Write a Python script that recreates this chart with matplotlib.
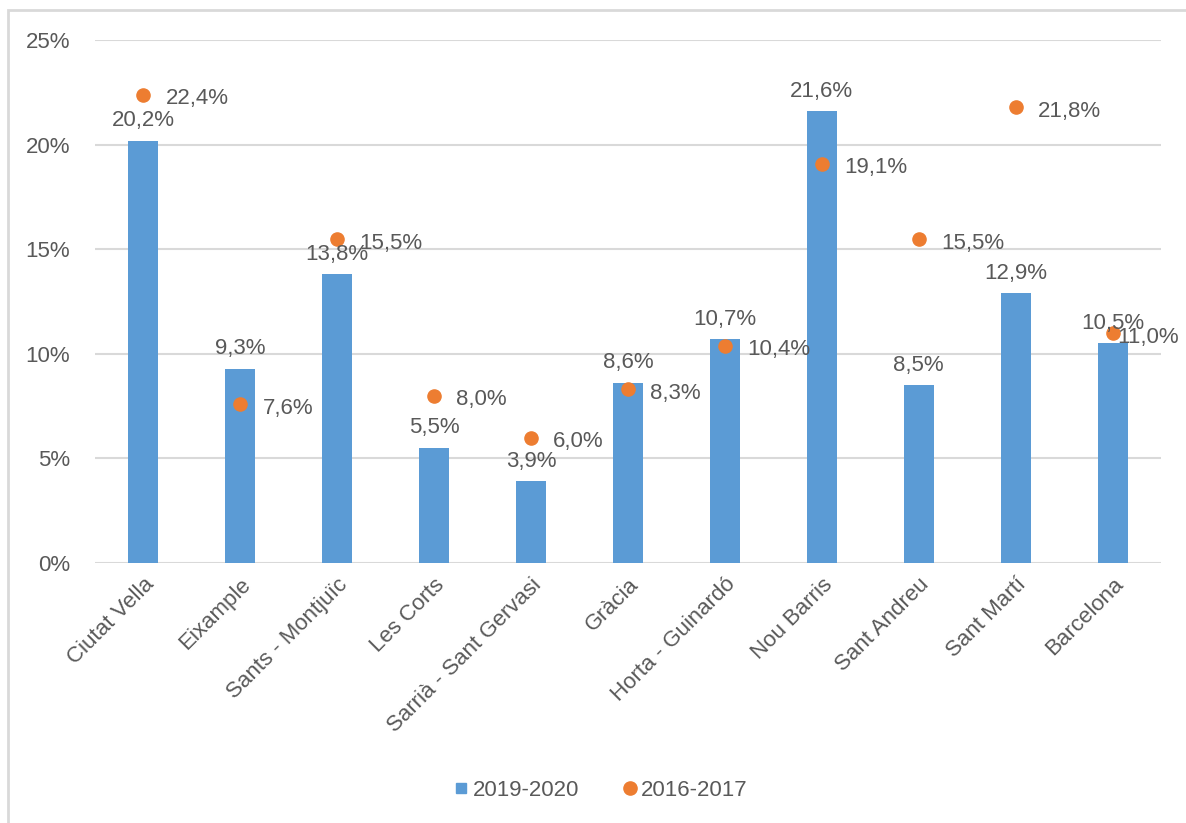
import matplotlib
matplotlib.use("Agg")
import matplotlib.pyplot as plt
from matplotlib.patches import Rectangle
from matplotlib.lines import Line2D

categories = ["Ciutat Vella", "Eixample", "Sants - Montjuïc", "Les Corts", "Sarrià - Sant Gervasi",
              "Gràcia", "Horta - Guinardó", "Nou Barris", "Sant Andreu", "Sant Martí", "Barcelona"]
v2019 = [20.2, 9.3, 13.8, 5.5, 3.9, 8.6, 10.7, 21.6, 8.5, 12.9, 10.5]
v2016 = [22.4, 7.6, 15.5, 8.0, 6.0, 8.3, 10.4, 19.1, 15.5, 21.8, 11.0]
yticks = [0, 5, 10, 15, 20, 25]

plt.rcParams['font.family'] = ['Liberation Sans', 'DejaVu Sans']
grey = '#595959'
blue = '#5B9BD5'
orange = '#ED7D31'
fs = 16

fig = plt.figure(figsize=(11.86, 8.23), dpi=100)
ax = fig.add_axes([0.080, 0.316, 0.899, 0.635])

x = list(range(len(categories)))
bars = ax.bar(x, v2019, width=0.31, color=blue, label='2019-2020', zorder=2)
sc = ax.scatter(x, v2016, s=90, color=orange, label='2016-2017', zorder=3)

def fmt(v):
    return f"{v:.1f}%".replace('.', ',')

for xi, v in zip(x, v2019):
    ax.annotate(fmt(v), (xi, v), xytext=(0, 7), textcoords='offset points',
                ha='center', va='bottom', fontsize=fs, color=grey, zorder=4)
for i, (xi, v) in enumerate(zip(x, v2016)):
    dx = 3 if i == len(x) - 1 else 16
    ax.annotate(fmt(v), (xi, v), xytext=(dx, -3), textcoords='offset points',
                ha='left', va='center', fontsize=fs, color=grey, zorder=4)

ax.set_xlim(-0.5, len(categories) - 0.5)
ax.set_ylim(0, 25)
ax.set_yticks(yticks)
ax.set_yticklabels([f"{t}%" for t in yticks], fontsize=fs, color=grey)
ax.set_xticks(x)
ax.set_xticklabels(categories, rotation=45, ha='right', rotation_mode='anchor',
                   fontsize=fs, color=grey)
ax.tick_params(axis='both', length=0)
ax.tick_params(axis='y', pad=18)
ax.tick_params(axis='x', pad=8)
for s in ax.spines.values():
    s.set_visible(False)
ax.yaxis.grid(True, color='#D9D9D9', linewidth=1.5, zorder=0)
ax.set_axisbelow(True)

h_bar = Line2D([], [], linestyle='none', marker='s', markersize=7, color=blue)
h_dot = Line2D([], [], linestyle='none', marker='o', markersize=9.5, color=orange)
leg = fig.legend([h_bar, h_dot], ['2019-2020', '2016-2017'], loc='center',
                 bbox_to_anchor=(0.505, 0.04), ncol=2, frameon=False,
                 fontsize=fs, handletextpad=0.0, columnspacing=1.8, handlelength=1.0)
for t in leg.get_texts():
    t.set_color(grey)

fig.patches.append(Rectangle((8 / 1186, -0.1), 1.2, 1 - 10 / 823 + 0.1,
                             transform=fig.transFigure, fill=False,
                             edgecolor='#D9D9D9', linewidth=2))

fig.savefig('out.png', dpi=100)
